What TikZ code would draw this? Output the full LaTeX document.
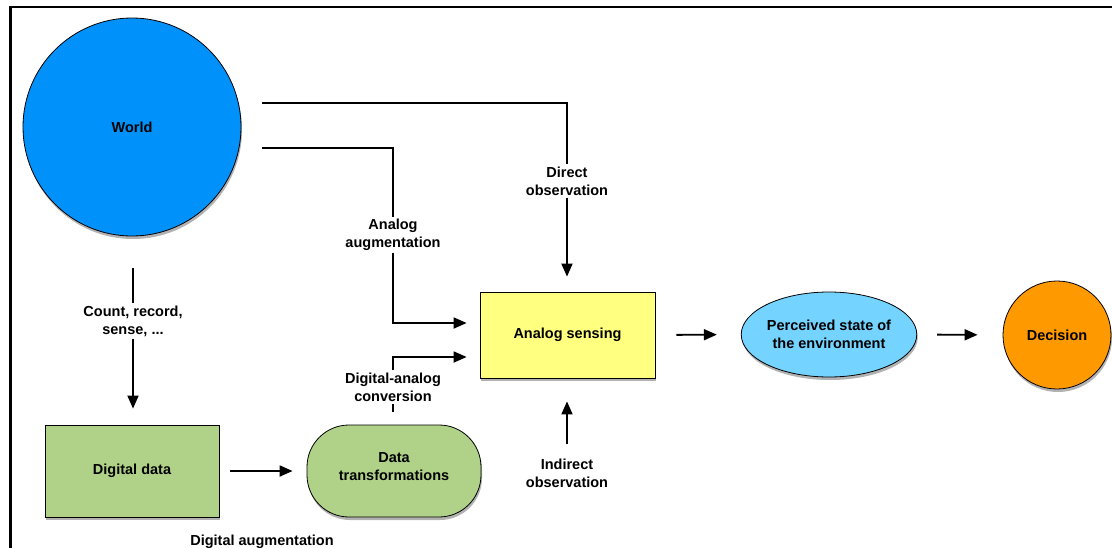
\documentclass[tikz,border=0pt]{standalone}
\usepackage{fontspec}
\setmainfont{Liberation Sans}
\usetikzlibrary{shapes.geometric,shadows,arrows.meta}
\definecolor{worldblue}{RGB}{0,145,250}
\definecolor{boxgreen}{RGB}{176,210,136}
\definecolor{boxyellow}{RGB}{255,255,128}
\definecolor{percblue}{RGB}{116,212,255}
\definecolor{decorange}{RGB}{255,153,0}
\tikzset{
  every node/.style={font=\bfseries\fontsize{14.5}{18}\selectfont, align=center},
  shapebox/.style={draw=black, line width=0.8pt, inner sep=0pt,
    drop shadow={shadow xshift=1pt, shadow yshift=-3pt, opacity=0.3, fill=black}},
  lbl/.style={inner sep=2pt},
  conn/.style={line width=1.8pt},
  arr/.style={line width=1.8pt, -{Triangle[length=13pt,width=11pt]}},
}
\begin{document}
\begin{tikzpicture}[x=1pt,y=-1pt]
\useasboundingbox (0,0) rectangle (1112,547);
% frame
\draw[line width=2.5pt] (10.5,560) -- (10.5,7) -- (1120,7);

% nodes
\node[shapebox, circle, fill=worldblue, minimum size=218pt] (World) at (132,127) {World};
\node[shapebox, rectangle, fill=boxgreen, minimum width=174pt, minimum height=92pt, text depth=4pt] (DD) at (132,471) {Digital data};
\node[shapebox, rectangle, rounded corners=42pt, fill=boxgreen, minimum width=174pt, minimum height=92pt, text depth=8pt] (DT) at (394,471) {Data\\transformations};
\node[shapebox, rectangle, fill=boxyellow, minimum width=175pt, minimum height=86pt] (AS) at (567.5,335) {Analog sensing};
\node[shapebox, ellipse, fill=percblue, minimum width=174pt, minimum height=85pt] (PE) at (829,334.5) {Perceived state of\\the environment};
\node[shapebox, circle, fill=decorange, minimum size=108pt] (DEC) at (1057,335) {Decision};

% labels
\node[lbl] (lDirect) at (567,181) {Direct\\observation};
\node[lbl] (lAnalog) at (393,235) {Analog\\augmentation};
\node[lbl] (lCount) at (133,321) {Count, record,\\sense, ...};
\node[lbl] (lDA) at (393,387) {Digital-analog\\conversion};
\node[lbl] (lIndirect) at (567,473) {Indirect\\observation};
\node[lbl] (lDigAug) at (262,542) {Digital augmentation};

% free ends
\coordinate (wA) at (262,103);
\coordinate (wB) at (262,148);

% connectors
\draw[conn] (wA) -| (lDirect.north);
\draw[arr, shorten >=15pt] (lDirect.south) -- (lDirect.south |- AS.north);

\draw[conn] (wB) -| (lAnalog.north);
\draw[arr, shorten >=13pt] (lAnalog.south) |- ([yshift=12pt]AS.west);

\draw[conn, shorten <=13pt] (DT.north -| lDA) -- (lDA.south);
\draw[arr, shorten >=13pt] (lDA.north) |- ([yshift=-22pt]AS.west);

\draw[conn, shorten <=32pt] (World.south -| lCount) -- (lCount.north);
\draw[arr, shorten >=16pt] (lCount.south) -- (lCount.south |- DD.north);

\draw[arr, shorten <=11pt, shorten >=14pt] (DD.east) -- (DT.west);

\draw[arr, shorten <=12pt, shorten >=23pt] (lIndirect.north) -- (lIndirect.north |- AS.south);

\draw[arr, shorten <=21pt, shorten >=24pt] (AS.east) -- (PE.west);
\draw[arr, shorten <=20pt, shorten >=25pt] (PE.east) -- (DEC.west);
\end{tikzpicture}
\end{document}
